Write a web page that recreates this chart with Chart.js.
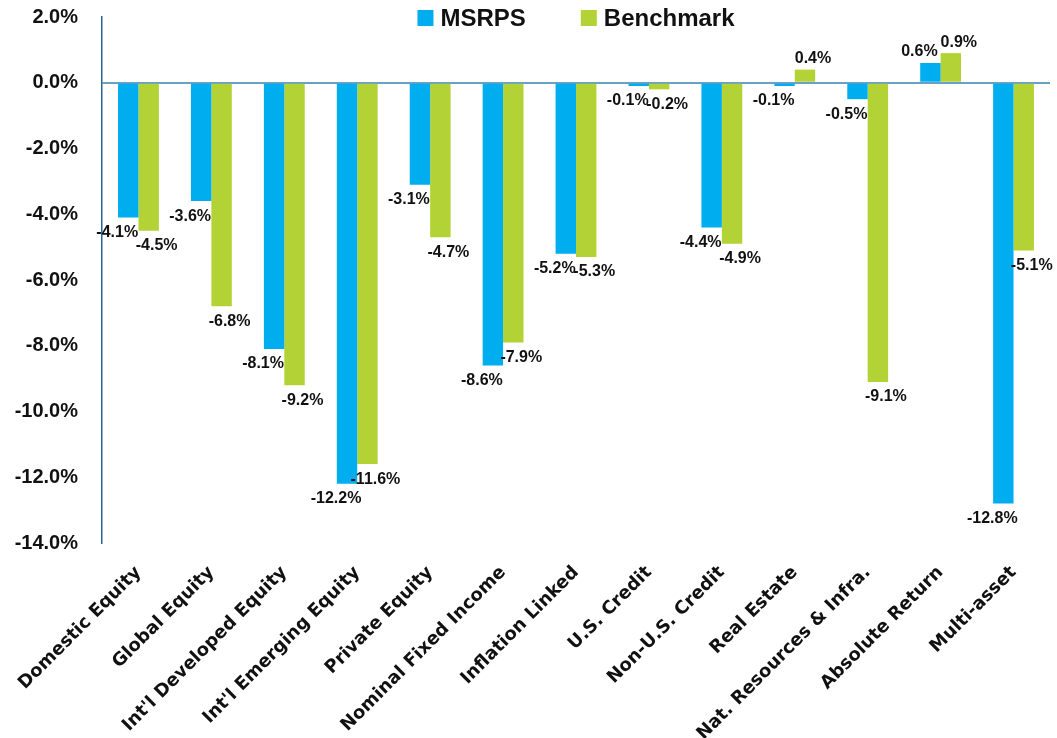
<!DOCTYPE html>
<html lang="en">
<head>
  <meta charset="UTF-8">
  <title>MSRPS vs Benchmark</title>
  <script src="https://cdn.jsdelivr.net/npm/chart.js"></script>
  <style>
    html, body { margin: 0; padding: 0; background: #fff; }
    #wrap { width: 1057px; height: 738px; }
  </style>
</head>
<body>
  <div id="wrap"><canvas id="ReturnsChart" width="1057" height="738"></canvas></div>
  <script>
    // Asset classes and returns (%)
    const categories = [
      'Domestic Equity', 'Global Equity', "Int'l Developed Equity", "Int'l Emerging Equity",
      'Private Equity', 'Nominal Fixed Income', 'Inflation Linked', 'U.S. Credit',
      'Non-U.S. Credit', 'Real Estate', 'Nat. Resources & Infra.', 'Absolute Return', 'Multi-asset'
    ];
    const msrps = [-4.1, -3.6, -8.1, -12.2, -3.1, -8.6, -5.2, -0.1, -4.4, -0.1, -0.5, 0.6, -12.8];
    const benchmark = [-4.5, -6.8, -9.2, -11.6, -4.7, -7.9, -5.3, -0.2, -4.9, 0.4, -9.1, 0.9, -5.1];
    const yTicks = [-14, -12, -10, -8, -6, -4, -2, 0, 2];

    const BLUE = '#00aeef';
    const GREEN = '#b2d235';

    // value labels under (or above) each bar end, nudged apart so pairs don't collide
    const valueLabels = {
      id: 'valueLabels',
      afterDatasetsDraw(chart) {
        const ctx = chart.ctx;
        ctx.save();
        ctx.font = 'bold 16px "Liberation Sans", Arial, sans-serif';
        ctx.fillStyle = '#111';
        ctx.textAlign = 'center';
        ctx.textBaseline = 'middle';
        chart.data.datasets.forEach((ds, di) => {
          const meta = chart.getDatasetMeta(di);
          meta.data.forEach((bar, i) => {
            const v = ds.data[i];
            const dx = di === 0 ? -11 : 8;
            const dy = v < 0 ? 15 : -11;
            ctx.fillText(v.toFixed(1) + '%', bar.x + dx, bar.y + dy);
          });
        });
        ctx.restore();
      }
    };

    // legend drawn over the top of the plot
    const topLegend = {
      id: 'topLegend',
      afterDraw(chart) {
        const ctx = chart.ctx;
        const area = chart.chartArea;
        ctx.save();
        ctx.font = 'bold 24px "Liberation Sans", Arial, sans-serif';
        ctx.textBaseline = 'middle';
        const box = 16, gapText = 7, gapItem = 55;
        const items = chart.data.datasets.map(ds => ({
          label: ds.label, color: ds.backgroundColor, w: ctx.measureText(ds.label).width
        }));
        let total = 0;
        items.forEach((it, k) => { total += box + gapText + it.w + (k ? gapItem : 0); });
        let x = (area.left + area.right) / 2 - total / 2;
        const y = 18;
        items.forEach(it => {
          ctx.fillStyle = it.color;
          ctx.fillRect(x, y - box / 2, box, box);
          x += box + gapText;
          ctx.fillStyle = '#111';
          ctx.fillText(it.label, x, y + 1);
          x += it.w + gapItem;
        });
        ctx.restore();
      }
    };

    new Chart(document.getElementById('ReturnsChart'), {
      type: 'bar',
      data: {
        labels: categories,
        datasets: [
          { label: 'MSRPS', data: msrps, backgroundColor: BLUE, borderWidth: 0 },
          { label: 'Benchmark', data: benchmark, backgroundColor: GREEN, borderWidth: 0 }
        ]
      },
      options: {
        responsive: false,
        animation: false,
        layout: { padding: { top: 17, right: 7, left: 0, bottom: 0 } },
        datasets: { bar: { categoryPercentage: 0.56, barPercentage: 1 } },
        plugins: {
          legend: { display: false },
          tooltip: { enabled: false }
        },
        scales: {
          x: {
            grid: { display: false },
            border: { display: false },
            ticks: {
              color: '#111',
              font: { family: '"DejaVu Sans", sans-serif', weight: 'bold', size: 18 },
              minRotation: 45,
              maxRotation: 45,
              autoSkip: false,
              padding: 11
            },
            afterFit(scale) {
              scale.height = 195;
              scale.paddingTop = 0;
              scale.paddingBottom = 0;
            }
          },
          y: {
            min: -14,
            max: 2,
            afterBuildTicks(scale) { scale.ticks = yTicks.map(v => ({ value: v })); },
            grid: {
              color: c => (c.tick && c.tick.value === 0 ? '#6a9fc6' : 'rgba(0,0,0,0)'),
              lineWidth: 2,
              drawTicks: false
            },
            border: { display: true, color: '#2b6597', width: 1.5 },
            ticks: {
              color: '#111',
              font: { family: '"Liberation Sans", Arial, sans-serif', weight: 'bold', size: 20 },
              padding: 24,
              callback: v => v.toFixed(1) + '%'
            },
            afterFit(scale) {
              scale.width = 102;
              scale.paddingTop = 0;
              scale.paddingBottom = 0;
            }
          }
        }
      },
      plugins: [valueLabels, topLegend]
    });
  </script>
</body>
</html>
